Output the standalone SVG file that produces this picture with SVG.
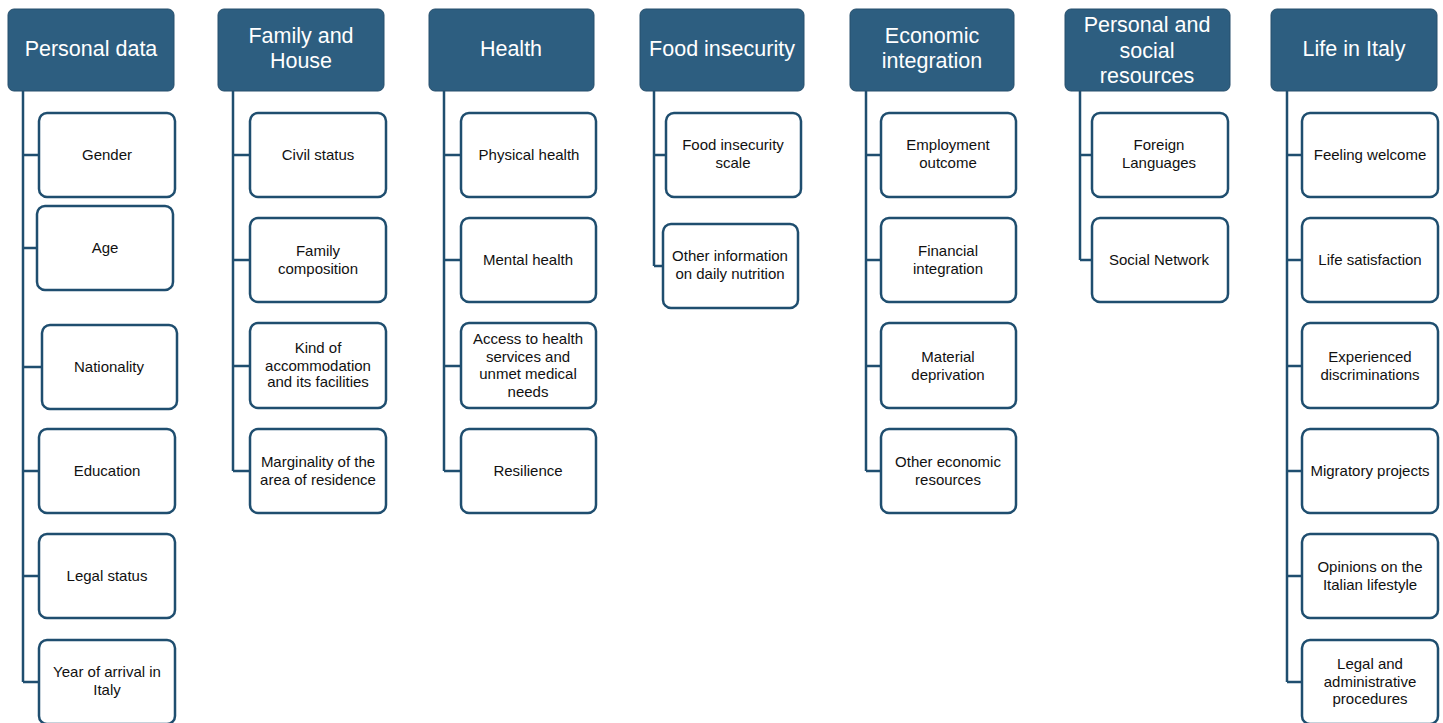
<svg xmlns="http://www.w3.org/2000/svg" width="1443" height="723" viewBox="0 0 1443 723">
  <style>
    .hdr rect { fill: #2d5e80; stroke: #274f6c; stroke-width: 1; }
    .hdr text { fill: #ffffff; font-family: "Liberation Sans", Arial, sans-serif; font-size: 21.5px; text-anchor: middle; }
    .item rect { fill: #ffffff; stroke: #1f4e6f; stroke-width: 2.5; }
    .item text { fill: #111111; font-family: "Liberation Sans", Arial, sans-serif; font-size: 15px; text-anchor: middle; }
    .links path { fill: none; stroke: #1f4e6f; stroke-width: 2.5; }
  </style>

  <!-- tree connectors: one trunk per category with a tick to each item -->
  <g id="connectors" class="links">
    <path d="M23 91 V682 M23 155 H39 M23 248 H37 M23 367 H42 M23 471 H39 M23 576 H39 M23 682 H39"/>
    <path d="M233 91 V471 M233 155 H250 M233 260 H250 M233 366 H250 M233 471 H250"/>
    <path d="M444 91 V471 M444 155 H461 M444 260 H461 M444 366 H461 M444 471 H461"/>
    <path d="M654 91 V266 M654 155 H665 M654 266 H663"/>
    <path d="M866 91 V471 M866 155 H881 M866 260 H881 M866 366 H881 M866 471 H881"/>
    <path d="M1080 91 V260 M1080 155 H1092 M1080 260 H1092"/>
    <path d="M1287 91 V682 M1287 155 H1302 M1287 260 H1302 M1287 366 H1302 M1287 471 H1302 M1287 576 H1302 M1287 682 H1302"/>
  </g>

  <!-- category headers -->
  <g id="h-personal" class="hdr"><rect x="8" y="9" width="166" height="82" rx="6"/><text x="91" y="56">Personal data</text></g>
  <g id="h-family" class="hdr"><rect x="218" y="9" width="166" height="82" rx="6"/><text x="301" y="43">Family and</text><text x="301" y="68">House</text></g>
  <g id="h-health" class="hdr"><rect x="429" y="9" width="165" height="82" rx="6"/><text x="511" y="56">Health</text></g>
  <g id="h-food" class="hdr"><rect x="640" y="9" width="164" height="82" rx="6"/><text x="722" y="56">Food insecurity</text></g>
  <g id="h-economic" class="hdr"><rect x="850" y="9" width="164" height="82" rx="6"/><text x="932" y="43">Economic</text><text x="932" y="68">integration</text></g>
  <g id="h-resources" class="hdr"><rect x="1065" y="9" width="165" height="82" rx="6"/><text x="1147" y="32">Personal and</text><text x="1147" y="58">social</text><text x="1147" y="83">resources</text></g>
  <g id="h-italy" class="hdr"><rect x="1271" y="9" width="166" height="82" rx="6"/><text x="1354" y="56">Life in Italy</text></g>

  <!-- Personal data items -->
  <g id="n-gender" class="item"><rect x="39" y="113" width="136" height="84" rx="8"/><text x="107" y="160">Gender</text></g>
  <g id="n-age" class="item"><rect x="37" y="206" width="136" height="84" rx="8"/><text x="105" y="253">Age</text></g>
  <g id="n-nationality" class="item"><rect x="42" y="325" width="135" height="84" rx="8"/><text x="109" y="372">Nationality</text></g>
  <g id="n-education" class="item"><rect x="39" y="429" width="136" height="84" rx="8"/><text x="107" y="476">Education</text></g>
  <g id="n-legal" class="item"><rect x="39" y="534" width="136" height="84" rx="8"/><text x="107" y="581">Legal status</text></g>
  <g id="n-arrival" class="item"><rect x="39" y="640" width="136" height="84" rx="8"/><text x="107" y="677">Year of arrival in</text><text x="107" y="695">Italy</text></g>

  <!-- Family and House items -->
  <g id="n-civil" class="item"><rect x="250" y="113" width="136" height="84" rx="8"/><text x="318" y="160">Civil status</text></g>
  <g id="n-composition" class="item"><rect x="250" y="218" width="136" height="84" rx="8"/><text x="318" y="256">Family</text><text x="318" y="274">composition</text></g>
  <g id="n-accommodation" class="item"><rect x="250" y="323" width="136" height="85" rx="8"/><text x="318" y="353">Kind of</text><text x="318" y="371">accommodation</text><text x="318" y="387">and its facilities</text></g>
  <g id="n-marginality" class="item"><rect x="250" y="429" width="136" height="84" rx="8"/><text x="318" y="467">Marginality of the</text><text x="318" y="485">area of residence</text></g>

  <!-- Health items -->
  <g id="n-physical" class="item"><rect x="461" y="113" width="135" height="84" rx="8"/><text x="529" y="160">Physical health</text></g>
  <g id="n-mental" class="item"><rect x="461" y="218" width="135" height="84" rx="8"/><text x="528" y="265">Mental health</text></g>
  <g id="n-access" class="item"><rect x="461" y="323" width="135" height="85" rx="8"/><text x="528" y="344">Access to health</text><text x="528" y="362">services and</text><text x="528" y="379">unmet medical</text><text x="528" y="397">needs</text></g>
  <g id="n-resilience" class="item"><rect x="461" y="429" width="135" height="84" rx="8"/><text x="528" y="476">Resilience</text></g>

  <!-- Food insecurity items -->
  <g id="n-foodscale" class="item"><rect x="666" y="113" width="135" height="84" rx="8"/><text x="733" y="150">Food insecurity</text><text x="733" y="168">scale</text></g>
  <g id="n-nutrition" class="item"><rect x="663" y="224" width="135" height="84" rx="8"/><text x="730" y="261">Other information</text><text x="730" y="279">on daily nutrition</text></g>

  <!-- Economic integration items -->
  <g id="n-employment" class="item"><rect x="881" y="113" width="135" height="84" rx="8"/><text x="948" y="150">Employment</text><text x="948" y="168">outcome</text></g>
  <g id="n-financial" class="item"><rect x="881" y="218" width="135" height="84" rx="8"/><text x="948" y="256">Financial</text><text x="948" y="274">integration</text></g>
  <g id="n-material" class="item"><rect x="881" y="323" width="135" height="85" rx="8"/><text x="948" y="362">Material</text><text x="948" y="380">deprivation</text></g>
  <g id="n-otherecon" class="item"><rect x="881" y="429" width="135" height="84" rx="8"/><text x="948" y="467">Other economic</text><text x="948" y="485">resources</text></g>

  <!-- Personal and social resources items -->
  <g id="n-languages" class="item"><rect x="1092" y="113" width="136" height="84" rx="8"/><text x="1159" y="150">Foreign</text><text x="1159" y="168">Languages</text></g>
  <g id="n-network" class="item"><rect x="1092" y="218" width="136" height="84" rx="8"/><text x="1159" y="265">Social Network</text></g>

  <!-- Life in Italy items -->
  <g id="n-welcome" class="item"><rect x="1302" y="113" width="136" height="84" rx="8"/><text x="1370" y="160">Feeling welcome</text></g>
  <g id="n-satisfaction" class="item"><rect x="1302" y="218" width="136" height="84" rx="8"/><text x="1370" y="265">Life satisfaction</text></g>
  <g id="n-discrimination" class="item"><rect x="1302" y="323" width="136" height="85" rx="8"/><text x="1370" y="362">Experienced</text><text x="1370" y="380">discriminations</text></g>
  <g id="n-migratory" class="item"><rect x="1302" y="429" width="136" height="84" rx="8"/><text x="1370" y="476">Migratory projects</text></g>
  <g id="n-lifestyle" class="item"><rect x="1302" y="534" width="136" height="84" rx="8"/><text x="1370" y="572">Opinions on the</text><text x="1370" y="590">Italian lifestyle</text></g>
  <g id="n-procedures" class="item"><rect x="1302" y="640" width="136" height="84" rx="8"/><text x="1370" y="669">Legal and</text><text x="1370" y="687">administrative</text><text x="1370" y="704">procedures</text></g>
</svg>
